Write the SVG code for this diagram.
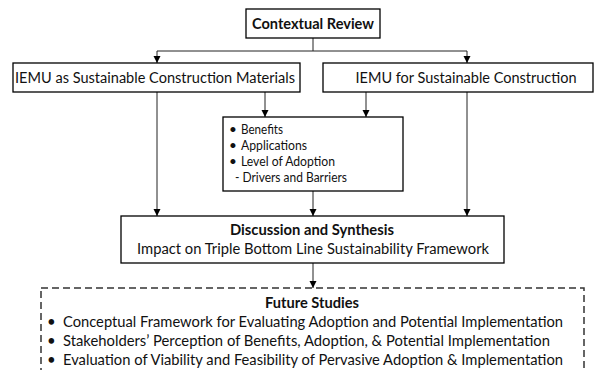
<svg xmlns="http://www.w3.org/2000/svg" width="597" height="370" viewBox="0 0 597 370">
<style>
.box{fill:#fff;stroke:#000;stroke-width:1.3}
.dash{fill:#fff;stroke:#333;stroke-width:1.5;stroke-dasharray:7 4}
.ln{fill:none;stroke:#222;stroke-width:1}
text{font-family:Lato,"Liberation Sans",sans-serif;fill:#111}
.t{font-size:14.5px}
.f{font-size:15px}
.s{font-size:13.5px}
.b{font-weight:bold}
</style>
<defs>
<marker id="ah" markerWidth="8" markerHeight="8" refX="7" refY="4" orient="auto" markerUnits="userSpaceOnUse">
<path d="M0,0.5 L7,4 L0,7.5 Z" fill="#000"/>
</marker>
</defs>
<rect width="597" height="370" fill="#fff"/>
<g id="connectors">
<path class="ln" d="M313,38 V51"/>
<path class="ln" d="M157,51 H467"/>
<path class="ln" d="M157,51 V63" marker-end="url(#ah)"/>
<path class="ln" d="M467,51 V63" marker-end="url(#ah)"/>
<path class="ln" d="M157,92 V216" marker-end="url(#ah)"/>
<path class="ln" d="M265,92 V117" marker-end="url(#ah)"/>
<path class="ln" d="M366,92 V117" marker-end="url(#ah)"/>
<path class="ln" d="M467,92 V216" marker-end="url(#ah)"/>
<path class="ln" d="M313,191 V216" marker-end="url(#ah)"/>
<path class="ln" d="M313,263 V288" marker-end="url(#ah)"/>
</g>
<g id="contextual-review">
<rect class="box" x="246" y="9" width="134" height="29"/>
<text class="t b" x="313" y="29" text-anchor="middle" textLength="122" lengthAdjust="spacingAndGlyphs">Contextual Review</text>
</g>
<g id="iemu-materials">
<rect class="box" x="13" y="63" width="287" height="29"/>
<text class="t" x="155" y="83" text-anchor="middle" textLength="280" lengthAdjust="spacingAndGlyphs">IEMU as Sustainable Construction Materials</text>
</g>
<g id="iemu-construction">
<rect class="box" x="323" y="63" width="270" height="29"/>
<text class="t" x="466" y="83" text-anchor="middle" textLength="221" lengthAdjust="spacingAndGlyphs">IEMU for Sustainable Construction</text>
</g>
<g id="topics">
<rect class="box" x="223" y="117" width="180" height="74"/>
<text class="s" x="229" y="134">•</text>
<text class="s" x="241" y="134" textLength="42" lengthAdjust="spacingAndGlyphs">Benefits</text>
<text class="s" x="229" y="150">•</text>
<text class="s" x="241" y="150" textLength="66" lengthAdjust="spacingAndGlyphs">Applications</text>
<text class="s" x="229" y="166">•</text>
<text class="s" x="241" y="166" textLength="94" lengthAdjust="spacingAndGlyphs">Level of Adoption</text>
<text class="s" x="235" y="182" textLength="112" lengthAdjust="spacingAndGlyphs">- Drivers and Barriers</text>
</g>
<g id="discussion">
<rect class="box" x="121" y="216" width="383" height="47"/>
<text class="t b" x="312" y="235" text-anchor="middle" textLength="164" lengthAdjust="spacingAndGlyphs">Discussion and Synthesis</text>
<text class="t" x="313" y="254" text-anchor="middle" textLength="352" lengthAdjust="spacingAndGlyphs">Impact on Triple Bottom Line Sustainability Framework</text>
</g>
<g id="future-studies">
<rect class="dash" x="41" y="288" width="543" height="100"/>
<text class="t b" x="312" y="308" text-anchor="middle" textLength="94" lengthAdjust="spacingAndGlyphs">Future Studies</text>
<text class="f" x="47" y="327">•</text>
<text class="f" x="63" y="327" textLength="500" lengthAdjust="spacingAndGlyphs">Conceptual Framework for Evaluating Adoption and Potential Implementation</text>
<text class="f" x="47" y="346">•</text>
<text class="f" x="63" y="346" textLength="487" lengthAdjust="spacingAndGlyphs">Stakeholders’ Perception of Benefits, Adoption, &amp; Potential Implementation</text>
<text class="f" x="47" y="365">•</text>
<text class="f" x="63" y="365" textLength="500" lengthAdjust="spacingAndGlyphs">Evaluation of Viability and Feasibility of Pervasive Adoption &amp; Implementation</text>
</g>
</svg>
